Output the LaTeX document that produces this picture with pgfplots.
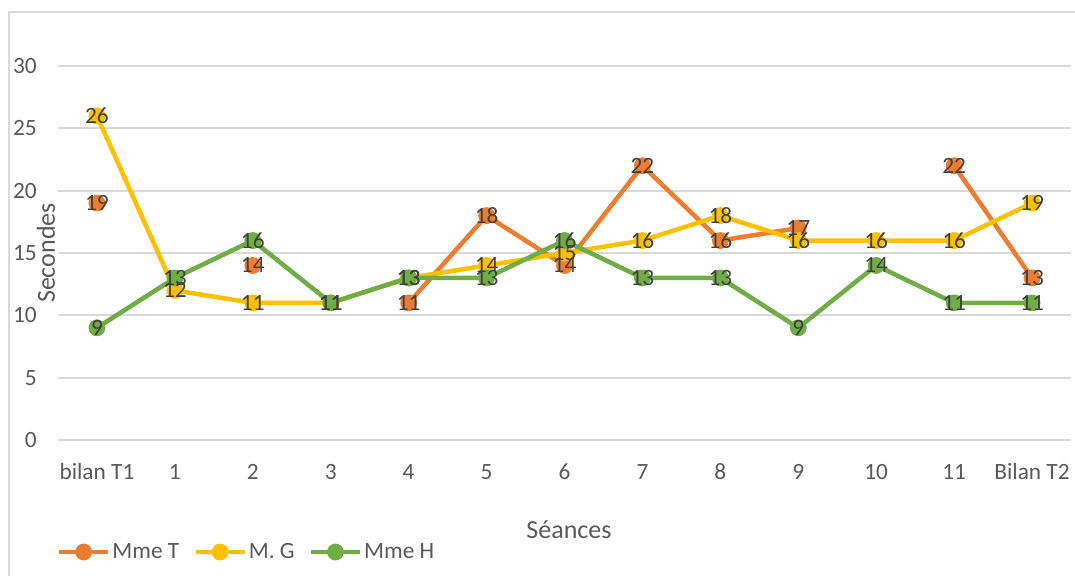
\documentclass[border=0pt]{standalone}
\usepackage{pgfplots}
\pgfplotsset{compat=1.18}
\usepackage{pgfplotstable}
\usepackage{fontspec}
\setmainfont{Carlito}
\definecolor{cT}{HTML}{ED7D31}
\definecolor{cG}{HTML}{FFC000}
\definecolor{cH}{HTML}{70AD47}
\definecolor{gridc}{HTML}{D9D9D9}
\definecolor{txt}{HTML}{595959}
\definecolor{lbl}{HTML}{404040}
\newcommand\tfont{\fontsize{17.5pt}{21pt}\selectfont}
\newcommand\afont{\fontsize{19.5pt}{23pt}\selectfont}

\pgfplotstableread{
x T G H
0 19 26 9
1 nan 12 13
2 14 11 16
3 nan 11 11
4 11 13 13
5 18 14 13
6 14 15 16
7 22 16 13
8 16 18 13
9 17 16 9
10 nan 16 14
11 22 16 11
12 13 19 11
}\data

\begin{document}
\begin{tikzpicture}
\path[use as bounding box] (0,0) rectangle (806.25pt,432pt);
\draw[gridc, line width=1.2pt] (6.75pt,0pt) -- (6.75pt,423pt) -- (806.25pt,423pt);
\begin{axis}[
 at={(43.5pt,102pt)}, anchor=south west,
 scale only axis, width=759.75pt, height=280.5pt,
 xmin=-0.5, xmax=12.5, ymin=0, ymax=30,
 xtick={0,...,12},
 xticklabels={bilan T1,1,2,3,4,5,6,7,8,9,10,11,Bilan T2},
 ytick={0,5,...,30},
 axis line style={draw=none},
 major tick length=0pt,
 ymajorgrids, grid style={gridc, line width=1.4pt},
 /pgf/number format/assume math mode=true,
 tick label style={font=\tfont, text=txt, inner sep=0pt},
 yticklabel style={anchor=east, xshift=-15.75pt},
 xticklabel style={anchor=base, yshift=-29.6pt},
 xlabel={Séances}, ylabel={Secondes},
 every axis x label/.style={at={(axis description cs:0.5,0)}, anchor=base, yshift=-73.5pt, xshift=3.4pt, font=\afont, text=txt, inner sep=0pt},
 every axis y label/.style={at={(axis description cs:-0.0118,0.5)}, rotate=90, anchor=center, font=\afont, text=txt, inner sep=0pt},
 unbounded coords=jump,
 legend columns=3,
 legend style={at={(axis description cs:0,0)}, anchor=west, xshift=-1pt, yshift=-84pt, draw=none, fill=none, inner sep=0pt, font=\tfont, text=txt, nodes={inner sep=1.5pt}, /tikz/every even column/.append style={column sep=9pt}},
 legend cell align=left,
 legend image code/.code={\draw[mark repeat=2, mark phase=2, #1] plot coordinates {(0pt,0pt) (18.375pt,0pt) (36.75pt,0pt)};},
]
\addplot[cT, line width=3.4pt, line join=round, mark=*, mark size=4.6pt, mark options={fill=cT, draw=none}] table[x=x,y=T] {\data};
\addlegendentry{Mme T}
\addplot[cG, line width=3.4pt, line join=round, mark=*, mark size=4.6pt, mark options={fill=cG, draw=none}] table[x=x,y=G] {\data};
\addlegendentry{M. G}
\addplot[cH, line width=3.4pt, line join=round, mark=*, mark size=4.6pt, mark options={fill=cH, draw=none}] table[x=x,y=H] {\data};
\addlegendentry{Mme H}

\addplot[draw=none, mark=none, forget plot, unbounded coords=discard, nodes near coords, every node near coord/.style={anchor=center, font=\tfont, text=lbl, inner sep=0pt}] table[x=x,y=T] {\data};
\addplot[draw=none, mark=none, forget plot, unbounded coords=discard, nodes near coords, every node near coord/.style={anchor=center, font=\tfont, text=lbl, inner sep=0pt}] table[x=x,y=G] {\data};
\addplot[draw=none, mark=none, forget plot, unbounded coords=discard, nodes near coords, every node near coord/.style={anchor=center, font=\tfont, text=lbl, inner sep=0pt}] table[x=x,y=H] {\data};
\end{axis}
\end{tikzpicture}
\end{document}
